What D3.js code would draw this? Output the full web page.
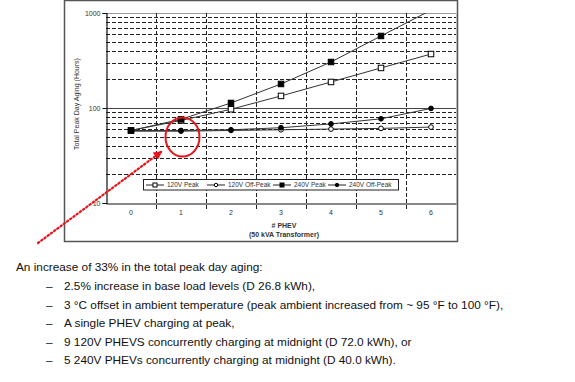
<!DOCTYPE html>
<html>
<head>
<meta charset="utf-8">
<script src="https://cdnjs.cloudflare.com/ajax/libs/d3/7.8.5/d3.min.js"></script>
<style>
  body { margin: 0; background: #fff; }
  svg { display: block; }
</style>
</head>
<body>
<div id="chart"></div>
<script>
const phev = ['0', '1', '2', '3', '4', '5', '6'];
const peak120 = [58, 74, 97, 134, 188, 264, 370];
const offPeak120 = [57, 57, 58, 59, 60, 61, 63];
const peak240 = [58, 76, 113, 179, 305, 573, 1070];
const offPeak240 = [58, 58, 59, 62, 68, 77, 99];
const yTicks = [10, 100, 1000];
const seriesNames = ['120V Peak', '120V Off-Peak', '240V Peak', '240V Off-Peak'];
const notes = [
  '2.5% increase in base load levels (D 26.8 kWh),',
  '3 °C offset in ambient temperature (peak ambient increased from ~ 95 °F to 100 °F),',
  'A single PHEV charging at peak,',
  '9 120V PHEVS concurrently charging at midnight (D 72.0 kWh), or',
  '5 240V PHEVs concurrently charging at midnight (D 40.0 kWh).'
];

const W = 575, H = 382;
const plot = { left: 106, right: 456, top: 13, bottom: 203 };

const svg = d3.select('#chart').append('svg')
  .attr('width', W)
  .attr('height', H);

const x = d3.scaleBand()
  .domain(phev)
  .range([plot.left, plot.right])
  .padding(0);

const y = d3.scaleLog()
  .domain([10, 1000])
  .range([plot.bottom, plot.top]);

// outer frame of the pasted chart
svg.append('rect')
  .attr('x', 64.5).attr('y', 0.5)
  .attr('width', 393).attr('height', 241)
  .attr('fill', 'none')
  .attr('stroke', '#555')
  .attr('stroke-width', 1.5);

// horizontal grid (minor dashed, decades solid)
const minor = [];
[10, 100].forEach(d => { for (let k = 2; k <= 9; k++) minor.push(d * k); });
svg.append('g').selectAll('line')
  .data(minor)
  .enter().append('line')
  .attr('x1', plot.left).attr('x2', plot.right)
  .attr('y1', d => Math.round(y(d)) + 0.5)
  .attr('y2', d => Math.round(y(d)) + 0.5)
  .attr('stroke', '#222')
  .attr('stroke-dasharray', '4,2');

svg.append('g').selectAll('line')
  .data([100, 1000])
  .enter().append('line')
  .attr('x1', plot.left).attr('x2', plot.right)
  .attr('y1', d => Math.round(y(d)) + 0.5)
  .attr('y2', d => Math.round(y(d)) + 0.5)
  .attr('stroke', d => d === 100 ? '#444' : '#999')
  .attr('stroke-width', 1.2);

// vertical dashed grid at category boundaries, running below the axis as ticks
const bounds = phev.slice(1).map(d => x(d));
svg.append('g').selectAll('line')
  .data(bounds)
  .enter().append('line')
  .attr('x1', d => Math.round(d) + 0.5).attr('x2', d => Math.round(d) + 0.5)
  .attr('y1', plot.top).attr('y2', plot.bottom + 6)
  .attr('stroke', '#222')
  .attr('stroke-dasharray', '4,2');

svg.append('line')
  .attr('x1', plot.right + 0.5).attr('x2', plot.right + 0.5)
  .attr('y1', plot.top).attr('y2', plot.bottom)
  .attr('stroke', '#bbb');

// axes
const yAxis = svg.append('g')
  .attr('transform', `translate(${plot.left + 0.5},0)`)
  .call(d3.axisLeft(y).tickValues(yTicks).tickFormat(d3.format('d')).tickSize(4).tickPadding(2));
const xAxis = svg.append('g')
  .attr('transform', `translate(0,${plot.bottom + 0.5})`)
  .call(d3.axisBottom(x).tickSize(0).tickPadding(7));
[yAxis, xAxis].forEach(a => {
  a.select('.domain').attr('stroke', '#111').attr('stroke-width', 1.2);
  a.selectAll('text')
    .attr('font-family', 'Liberation Sans, Arial, sans-serif')
    .attr('font-size', 7)
    .attr('fill', '#333');
});
yAxis.selectAll('.tick line').attr('stroke', '#111');

// axis titles
svg.append('text')
  .attr('transform', `translate(79,${(plot.top + plot.bottom) / 2 - 4}) rotate(-90)`)
  .attr('text-anchor', 'middle')
  .attr('font-family', 'Liberation Sans, Arial, sans-serif')
  .attr('font-size', 7)
  .attr('fill', '#333')
  .text('Total Peak Day Aging (Hours)');

svg.append('text')
  .attr('x', 284).attr('y', 228)
  .attr('text-anchor', 'middle')
  .attr('font-family', 'Liberation Sans, Arial, sans-serif')
  .attr('font-size', 7)
  .attr('font-weight', 'bold')
  .attr('fill', '#333')
  .text('# PHEV');

svg.append('text')
  .attr('x', 284).attr('y', 237)
  .attr('text-anchor', 'middle')
  .attr('font-family', 'Liberation Sans, Arial, sans-serif')
  .attr('font-size', 7)
  .attr('font-weight', 'bold')
  .attr('fill', '#333')
  .text('(50 kVA Transformer)');

// series
const series = [
  { name: seriesNames[0], values: peak120, shape: 'square', fill: '#fff' },
  { name: seriesNames[1], values: offPeak120, shape: 'circle', fill: '#fff' },
  { name: seriesNames[2], values: peak240, shape: 'square', fill: '#000' },
  { name: seriesNames[3], values: offPeak240, shape: 'circle', fill: '#000' }
];

svg.append('clipPath').attr('id', 'clip')
  .append('rect')
  .attr('x', plot.left).attr('y', plot.top)
  .attr('width', plot.right - plot.left).attr('height', plot.bottom - plot.top);

const cx = d => x(d) + x.bandwidth() / 2;
const line = d3.line()
  .x((d, i) => cx(phev[i]))
  .y(d => y(d));

const plotG = svg.append('g').attr('clip-path', 'url(#clip)');

series.forEach(s => {
  plotG.append('path')
    .datum(s.values)
    .attr('d', line)
    .attr('fill', 'none')
    .attr('stroke', '#333')
    .attr('stroke-width', 1);
});

function drawMarker(g, shape, fill, px, py, size) {
  if (shape === 'square') {
    g.append('rect')
      .attr('x', px - size / 2).attr('y', py - size / 2)
      .attr('width', size).attr('height', size)
      .attr('fill', fill)
      .attr('stroke', '#000')
      .attr('stroke-width', 1);
  } else {
    g.append('circle')
      .attr('cx', px).attr('cy', py)
      .attr('r', size * 0.43)
      .attr('fill', fill)
      .attr('stroke', '#000')
      .attr('stroke-width', 1);
  }
}

series.forEach(s => {
  s.values.forEach((v, i) => {
    if (v <= 1000) drawMarker(plotG, s.shape, s.fill, cx(phev[i]), y(v), 5.5);
  });
});

// legend
const legend = svg.append('g');
legend.append('rect')
  .attr('x', 143.5).attr('y', 179.5)
  .attr('width', 255).attr('height', 10.5)
  .attr('fill', '#fff')
  .attr('stroke', '#222')
  .attr('stroke-width', 1);
const legendX = [146, 207, 273, 328];
series.forEach((s, i) => {
  const lx = legendX[i];
  const ly = 185;
  legend.append('line')
    .attr('x1', lx).attr('x2', lx + 18)
    .attr('y1', ly).attr('y2', ly)
    .attr('stroke', '#222');
  drawMarker(legend, s.shape, s.fill, lx + 9, ly, 4);
  legend.append('text')
    .attr('x', lx + 21).attr('y', ly + 2.3)
    .attr('font-family', 'Liberation Sans, Arial, sans-serif')
    .attr('font-size', 6.5)
    .attr('fill', '#333')
    .text(s.name);
});

// red annotation
svg.append('ellipse')
  .attr('cx', 182.5).attr('cy', 137)
  .attr('rx', 17).attr('ry', 19.5)
  .attr('fill', 'none')
  .attr('stroke', '#e8141b')
  .attr('stroke-width', 2);

svg.append('defs').append('marker')
  .attr('id', 'arrow')
  .attr('viewBox', '0 0 10 10')
  .attr('refX', 8).attr('refY', 5)
  .attr('markerWidth', 4).attr('markerHeight', 4)
  .attr('orient', 'auto')
  .append('path')
  .attr('d', 'M0,0 L10,5 L0,10 Z')
  .attr('fill', '#e8141b');

svg.append('line')
  .attr('x1', 38).attr('y1', 243)
  .attr('x2', 161).attr('y2', 152)
  .attr('stroke', '#e8141b')
  .attr('stroke-width', 2.2)
  .attr('stroke-dasharray', '1.5,2.5')
  .attr('stroke-linecap', 'round')
  .attr('marker-end', 'url(#arrow)');

// notes below
const textFont = 'Liberation Sans, Arial, sans-serif';
svg.append('text')
  .attr('x', 16).attr('y', 271)
  .attr('font-family', textFont)
  .attr('font-size', 11.8)
  .attr('fill', '#111')
  .text('An increase of 33% in the total peak day aging:');

notes.forEach((t, i) => {
  const ty = 290 + i * 18.5;
  svg.append('text')
    .attr('x', 46).attr('y', ty)
    .attr('font-family', textFont)
    .attr('font-size', 11.8)
    .attr('fill', '#111')
    .text('–');
  svg.append('text')
    .attr('x', 64).attr('y', ty)
    .attr('font-family', textFont)
    .attr('font-size', 11.8)
    .attr('fill', '#111')
    .text(t);
});
</script>
</body>
</html>
